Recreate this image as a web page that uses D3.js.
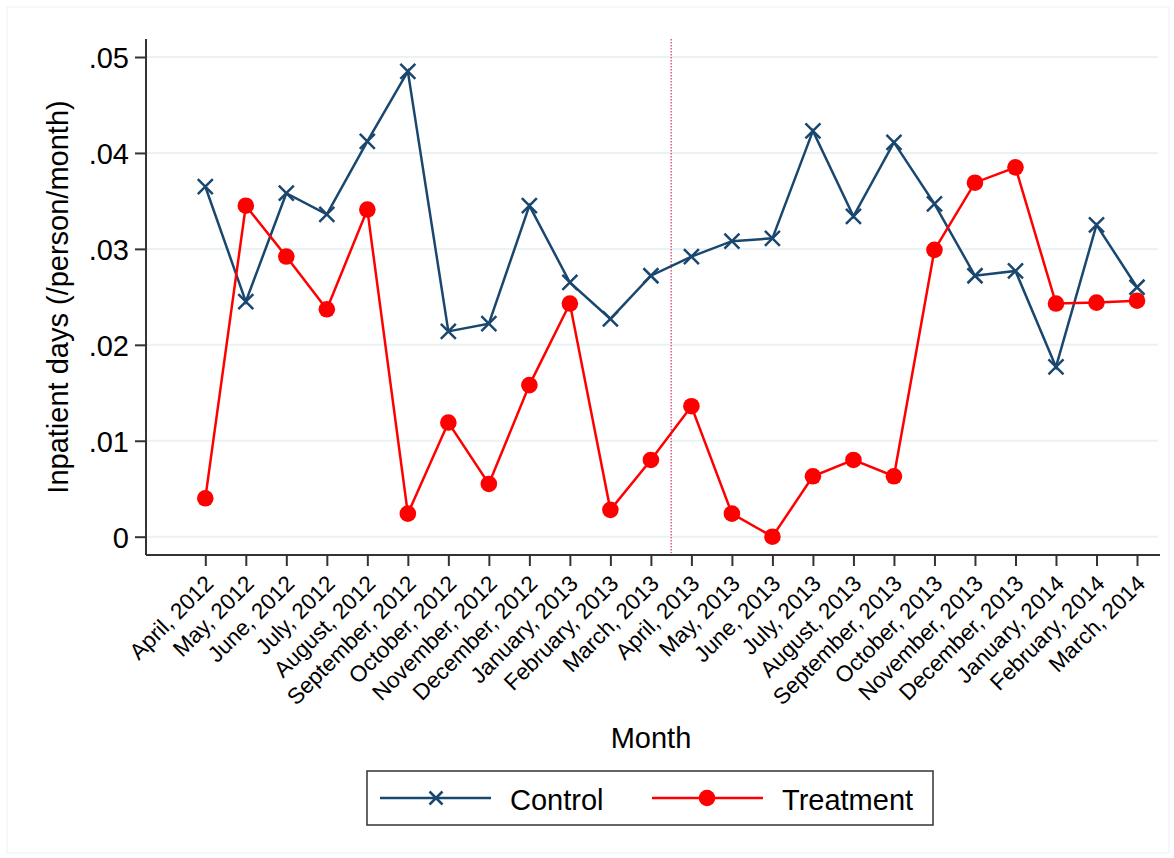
<!DOCTYPE html>
<html>
<head>
<meta charset="utf-8">
<script src="https://cdn.jsdelivr.net/npm/d3@7"></script>
<style>
body { margin: 0; background: #fff; }
svg { font-family: "Liberation Sans", Arial, Helvetica, sans-serif; }
</style>
</head>
<body>
<div id="chart"></div>
<script>
const months = ['April, 2012','May, 2012','June, 2012','July, 2012','August, 2012','September, 2012',
'October, 2012','November, 2012','December, 2012','January, 2013','February, 2013','March, 2013',
'April, 2013','May, 2013','June, 2013','July, 2013','August, 2013','September, 2013',
'October, 2013','November, 2013','December, 2013','January, 2014','February, 2014','March, 2014']

const control = [0.0365,0.0245,0.0358,0.0336,0.0412,0.0485,0.0214,0.0222,0.0345,0.0265,0.0227,0.0272,
0.0292,0.0308,0.0311,0.0423,0.0334,0.0411,0.0347,0.0272,0.0277,0.0177,0.0325,0.0260]

const treatment = [0.0040,0.0345,0.0292,0.0237,0.0341,0.0024,0.0119,0.0055,0.0158,0.0243,0.0028,0.0080,
0.0136,0.0024,0.0000,0.0063,0.0080,0.0063,0.0299,0.0369,0.0385,0.0243,0.0244,0.0246]

const yTicks = [0, 0.01, 0.02, 0.03, 0.04, 0.05]
const yTickLabels = ['0', '.01', '.02', '.03', '.04', '.05']
const breakAt = 11.5  // between March and April 2013

const width = 1174, height = 858
const navy = '#1a476f', red = '#ff0000'

const svg = d3.select('#chart').append('svg')
.attr('width', width)
.attr('height', height)

// faint outer frame
svg.append('rect')
.attr('x', 7).attr('y', 7)
.attr('width', 1162).attr('height', 846)
.attr('fill', 'none')
.attr('stroke', '#f0f0f0')

const plot = {left: 146, right: 1160, top: 39, bottom: 555}

let x = d3.scaleLinear()
.domain([0, months.length - 1])
.range([205.3, 1137])

let y = d3.scaleLinear()
.domain([0, 0.05])
.range([536.7, 57])

// gridlines
svg.append('g')
.selectAll('line')
.data(yTicks)
.enter()
.append('line')
.attr('x1', plot.left + 1)
.attr('x2', plot.right - 2)
.attr('y1', d => y(d))
.attr('y2', d => y(d))
.attr('stroke', '#eaf2f3')
.attr('stroke-width', 2)

// y axis
const yAxis = svg.append('g')
.attr('transform', `translate(${plot.left},0)`)
.call(d3.axisLeft(y).tickValues(yTicks).tickFormat((d, i) => yTickLabels[i]).tickSize(11).tickPadding(6))

yAxis.select('.domain').attr('d', `M0,${plot.top}V${plot.bottom}`).attr('stroke', '#333').attr('stroke-width', 2)
yAxis.selectAll('.tick line').attr('stroke', '#333').attr('stroke-width', 2)
yAxis.selectAll('.tick text').attr('font-size', 29).attr('fill', '#000').attr('dy', '0.36em')

// x axis
const xAxis = svg.append('g')
.attr('transform', `translate(0,${plot.bottom})`)
.call(d3.axisBottom(x).tickValues(d3.range(months.length)).tickFormat(i => months[i]).tickSize(11))

xAxis.select('.domain').attr('d', `M${plot.left},0H${plot.right}`).attr('stroke', '#333').attr('stroke-width', 2)
xAxis.selectAll('.tick line').attr('stroke', '#333').attr('stroke-width', 2)
xAxis.selectAll('.tick text')
.attr('font-size', 22.5)
.attr('fill', '#000')
.attr('text-anchor', 'end')
.attr('x', 0).attr('y', 0).attr('dy', 0)
.attr('transform', 'translate(9,30) rotate(-45)')

// dotted reference line
svg.append('line')
.attr('x1', x(breakAt)).attr('x2', x(breakAt))
.attr('y1', plot.top).attr('y2', plot.bottom - 2)
.attr('stroke', '#d6336c')
.attr('stroke-width', 1.2)
.attr('stroke-dasharray', '1.5,1.5')

const line = d3.line()
.x((d, i) => x(i))
.y(d => y(d))

// control series
svg.append('path')
.datum(control)
.attr('d', line)
.attr('fill', 'none')
.attr('stroke', navy)
.attr('stroke-width', 2.5)

const xMark = s => `M${-s},${-s}L${s},${s}M${-s},${s}L${s},${-s}`

svg.append('g')
.selectAll('path')
.data(control)
.enter()
.append('path')
.attr('transform', (d, i) => `translate(${x(i)},${y(d)})`)
.attr('d', xMark(7.5))
.attr('stroke', navy)
.attr('stroke-width', 2.5)

// treatment series
svg.append('path')
.datum(treatment)
.attr('d', line)
.attr('fill', 'none')
.attr('stroke', red)
.attr('stroke-width', 2.5)

svg.append('g')
.selectAll('circle')
.data(treatment)
.enter()
.append('circle')
.attr('cx', (d, i) => x(i))
.attr('cy', d => y(d))
.attr('r', 8.3)
.attr('fill', red)

// axis titles
svg.append('text')
.attr('transform', `translate(68,${(plot.top + plot.bottom) / 2}) rotate(-90)`)
.attr('text-anchor', 'middle')
.attr('font-size', 29)
.text('Inpatient days (/person/month)')

svg.append('text')
.attr('x', 651)
.attr('y', 748)
.attr('text-anchor', 'middle')
.attr('font-size', 29)
.text('Month')

// legend
const legend = svg.append('g')

legend.append('rect')
.attr('x', 367).attr('y', 771)
.attr('width', 566).attr('height', 54)
.attr('fill', '#fff')
.attr('stroke', '#333')
.attr('stroke-width', 1.5)

const lg = [
{name: 'Control', color: navy, x0: 380, mark: 'x'},
{name: 'Treatment', color: red, x0: 652, mark: 'o'}
]

lg.forEach(l => {
	legend.append('line')
	.attr('x1', l.x0).attr('x2', l.x0 + 111)
	.attr('y1', 798).attr('y2', 798)
	.attr('stroke', l.color)
	.attr('stroke-width', 2.5)

	if(l.mark === 'x')
	{
		legend.append('path')
		.attr('transform', `translate(${l.x0 + 56},798)`)
		.attr('d', xMark(6.5))
		.attr('stroke', l.color)
		.attr('stroke-width', 2.5)
	}
	else
	{
		legend.append('circle')
		.attr('cx', l.x0 + 55).attr('cy', 798)
		.attr('r', 8.3)
		.attr('fill', l.color)
	}

	legend.append('text')
	.attr('x', l.x0 + 130)
	.attr('y', 810)
	.attr('font-size', 29)
	.text(l.name)
})
</script>
</body>
</html>
